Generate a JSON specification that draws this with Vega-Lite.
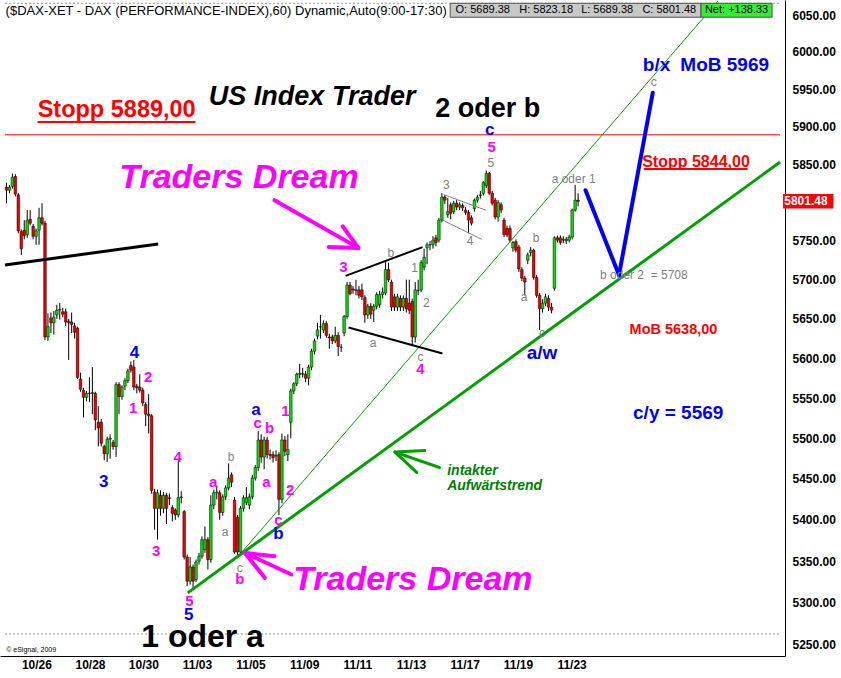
{
"$schema": "https://vega.github.io/schema/vega-lite/v6.json",
"width": 785, "height": 656,
"autosize": {"type": "none"},
"padding": {"left": 0, "top": 0, "right": 56, "bottom": 22},
"background": "white",
"config": {"view": {"stroke": null}, "font": "Liberation Sans, Arial, sans-serif",
 "axis": {"ticks": false, "grid": false, "domainColor": "black", "domainWidth": 1, "labelFont": "Liberation Sans, Arial, sans-serif", "labelFontWeight": "bold", "labelFontSize": 12, "labelColor": "black", "labelFlush": false, "labelOverlap": false, "titleOpacity": 0},
 "axisX": {"labelPadding": 3}, "axisY": {"labelPadding": 7}},
"datasets": {
"c": [
{"i":0,"o":5820,"h":5826,"l":5799,"c":5816},{"i":1,"o":5816,"h":5823,"l":5812,"c":5820},{"i":2,"o":5821,"h":5838,"l":5818,"c":5833},{"i":3,"o":5834,"h":5837,"l":5808,"c":5811},{"i":4,"o":5810,"h":5812,"l":5760,"c":5763},{"i":5,"o":5762,"h":5765,"l":5732,"c":5740},{"i":6,"o":5764,"h":5777,"l":5752,"c":5757},{"i":7,"o":5758,"h":5790,"l":5754,"c":5777},{"i":8,"o":5778,"h":5790,"l":5770,"c":5773},{"i":9,"o":5769,"h":5772,"l":5752,"c":5756},
{"i":10,"o":5756,"h":5766,"l":5745,"c":5763},{"i":11,"o":5764,"h":5793,"l":5745,"c":5780},{"i":12,"o":5780,"h":5799,"l":5770,"c":5773},{"i":13,"o":5773,"h":5776,"l":5623,"c":5627},{"i":14,"o":5627,"h":5657,"l":5622,"c":5640},{"i":15,"o":5651,"h":5658,"l":5632,"c":5645},{"i":16,"o":5645,"h":5660,"l":5630,"c":5652},{"i":17,"o":5655,"h":5668,"l":5650,"c":5661},{"i":18,"o":5661,"h":5670,"l":5649,"c":5662},{"i":19,"o":5659,"h":5664,"l":5652,"c":5656},
{"i":20,"o":5659,"h":5663,"l":5641,"c":5646},{"i":21,"o":5647,"h":5650,"l":5598,"c":5645},{"i":22,"o":5646,"h":5658,"l":5632,"c":5643},{"i":23,"o":5641,"h":5645,"l":5625,"c":5633},{"i":24,"o":5638,"h":5640,"l":5574,"c":5576},{"i":25,"o":5574,"h":5582,"l":5558,"c":5561},{"i":26,"o":5560,"h":5563,"l":5526,"c":5551},{"i":27,"o":5551,"h":5559,"l":5546,"c":5556},{"i":28,"o":5556,"h":5576,"l":5545,"c":5556},{"i":29,"o":5556,"h":5589,"l":5530,"c":5557},
{"i":30,"o":5556,"h":5558,"l":5510,"c":5523},{"i":31,"o":5520,"h":5540,"l":5490,"c":5513},{"i":32,"o":5520,"h":5524,"l":5490,"c":5494},{"i":33,"o":5490,"h":5492,"l":5473,"c":5481},{"i":34,"o":5481,"h":5502,"l":5471,"c":5499},{"i":35,"o":5499,"h":5505,"l":5475,"c":5500},{"i":36,"o":5495,"h":5498,"l":5486,"c":5490},{"i":37,"o":5490,"h":5570,"l":5477,"c":5567},{"i":38,"o":5567,"h":5570,"l":5530,"c":5552},{"i":39,"o":5552,"h":5566,"l":5548,"c":5564},
{"i":40,"o":5565,"h":5575,"l":5560,"c":5572},{"i":41,"o":5572,"h":5587,"l":5569,"c":5584},{"i":42,"o":5591,"h":5596,"l":5582,"c":5585},{"i":43,"o":5589,"h":5598,"l":5560,"c":5564},{"i":44,"o":5565,"h":5568,"l":5556,"c":5563},{"i":45,"o":5564,"h":5580,"l":5557,"c":5560},{"i":46,"o":5560,"h":5563,"l":5540,"c":5544},{"i":47,"o":5542,"h":5545,"l":5515,"c":5530},{"i":48,"o":5530,"h":5555,"l":5506,"c":5528},{"i":49,"o":5528,"h":5530,"l":5432,"c":5436},
{"i":50,"o":5434,"h":5438,"l":5388,"c":5414},{"i":51,"o":5414,"h":5437,"l":5376,"c":5433},{"i":52,"o":5430,"h":5436,"l":5405,"c":5414},{"i":53,"o":5414,"h":5434,"l":5408,"c":5430},{"i":54,"o":5430,"h":5433,"l":5395,"c":5414},{"i":55,"o":5427,"h":5432,"l":5418,"c":5426},{"i":56,"o":5415,"h":5418,"l":5398,"c":5408},{"i":57,"o":5412,"h":5414,"l":5400,"c":5406},{"i":58,"o":5406,"h":5473,"l":5403,"c":5427},{"i":59,"o":5427,"h":5435,"l":5420,"c":5428},
{"i":60,"o":5410,"h":5412,"l":5352,"c":5355},{"i":61,"o":5355,"h":5358,"l":5320,"c":5326},{"i":62,"o":5326,"h":5355,"l":5322,"c":5343},{"i":63,"o":5343,"h":5346,"l":5316,"c":5326},{"i":64,"o":5328,"h":5352,"l":5325,"c":5349},{"i":65,"o":5350,"h":5360,"l":5346,"c":5356},{"i":66,"o":5356,"h":5380,"l":5353,"c":5376},{"i":67,"o":5364,"h":5392,"l":5360,"c":5376},{"i":68,"o":5376,"h":5379,"l":5340,"c":5352},{"i":69,"o":5352,"h":5430,"l":5348,"c":5418},
{"i":70,"o":5418,"h":5437,"l":5413,"c":5433},{"i":71,"o":5433,"h":5442,"l":5425,"c":5434},{"i":72,"o":5433,"h":5436,"l":5400,"c":5409},{"i":73,"o":5409,"h":5431,"l":5405,"c":5428},{"i":74,"o":5428,"h":5442,"l":5424,"c":5439},{"i":75,"o":5439,"h":5469,"l":5436,"c":5451},{"i":76,"o":5455,"h":5458,"l":5440,"c":5446},{"i":77,"o":5424,"h":5428,"l":5359,"c":5361},{"i":78,"o":5403,"h":5406,"l":5357,"c":5361},{"i":79,"o":5361,"h":5417,"l":5358,"c":5414},
{"i":80,"o":5414,"h":5430,"l":5410,"c":5427},{"i":81,"o":5421,"h":5440,"l":5418,"c":5427},{"i":82,"o":5418,"h":5432,"l":5413,"c":5428},{"i":83,"o":5428,"h":5455,"l":5425,"c":5451},{"i":84,"o":5451,"h":5467,"l":5448,"c":5464},{"i":85,"o":5464,"h":5509,"l":5460,"c":5498},{"i":86,"o":5498,"h":5505,"l":5470,"c":5477},{"i":87,"o":5477,"h":5502,"l":5462,"c":5498},{"i":88,"o":5498,"h":5502,"l":5475,"c":5480},{"i":89,"o":5480,"h":5486,"l":5474,"c":5479},
{"i":90,"o":5480,"h":5484,"l":5470,"c":5476},{"i":91,"o":5478,"h":5485,"l":5472,"c":5479},{"i":92,"o":5480,"h":5483,"l":5406,"c":5425},{"i":93,"o":5425,"h":5506,"l":5420,"c":5498},{"i":94,"o":5498,"h":5503,"l":5478,"c":5484},{"i":95,"o":5480,"h":5505,"l":5472,"c":5486},{"i":96,"o":5520,"h":5562,"l":5500,"c":5559},{"i":97,"o":5559,"h":5570,"l":5555,"c":5568},{"i":98,"o":5568,"h":5582,"l":5565,"c":5580},{"i":99,"o":5580,"h":5593,"l":5575,"c":5581},
{"i":100,"o":5580,"h":5588,"l":5576,"c":5581},{"i":101,"o":5580,"h":5584,"l":5570,"c":5575},{"i":102,"o":5575,"h":5592,"l":5566,"c":5589},{"i":103,"o":5589,"h":5612,"l":5585,"c":5609},{"i":104,"o":5609,"h":5625,"l":5605,"c":5622},{"i":105,"o":5628,"h":5645,"l":5624,"c":5636},{"i":106,"o":5640,"h":5655,"l":5625,"c":5640},{"i":107,"o":5636,"h":5648,"l":5632,"c":5644},{"i":108,"o":5644,"h":5647,"l":5626,"c":5629},{"i":109,"o":5627,"h":5631,"l":5612,"c":5626},
{"i":110,"o":5627,"h":5630,"l":5618,"c":5622},{"i":111,"o":5622,"h":5640,"l":5619,"c":5629},{"i":112,"o":5629,"h":5633,"l":5603,"c":5615},{"i":113,"o":5614,"h":5618,"l":5608,"c":5614},{"i":114,"o":5632,"h":5655,"l":5628,"c":5653},{"i":115,"o":5653,"h":5697,"l":5650,"c":5693},{"i":116,"o":5693,"h":5697,"l":5680,"c":5682},{"i":117,"o":5688,"h":5692,"l":5682,"c":5687},{"i":118,"o":5686,"h":5700,"l":5680,"c":5687},{"i":119,"o":5687,"h":5692,"l":5676,"c":5680},
{"i":120,"o":5687,"h":5695,"l":5674,"c":5678},{"i":121,"o":5677,"h":5680,"l":5645,"c":5655},{"i":122,"o":5655,"h":5669,"l":5650,"c":5666},{"i":123,"o":5666,"h":5670,"l":5650,"c":5656},{"i":124,"o":5661,"h":5669,"l":5646,"c":5666},{"i":125,"o":5666,"h":5684,"l":5662,"c":5681},{"i":126,"o":5668,"h":5686,"l":5664,"c":5681},{"i":127,"o":5681,"h":5690,"l":5676,"c":5684},{"i":128,"o":5683,"h":5725,"l":5680,"c":5713},{"i":129,"o":5713,"h":5722,"l":5697,"c":5700},
{"i":130,"o":5697,"h":5700,"l":5660,"c":5665},{"i":131,"o":5678,"h":5682,"l":5660,"c":5665},{"i":132,"o":5665,"h":5682,"l":5660,"c":5678},{"i":133,"o":5676,"h":5680,"l":5660,"c":5665},{"i":134,"o":5665,"h":5680,"l":5660,"c":5676},{"i":135,"o":5676,"h":5700,"l":5658,"c":5663},{"i":136,"o":5670,"h":5700,"l":5656,"c":5661},{"i":137,"o":5672,"h":5676,"l":5617,"c":5627},{"i":138,"o":5627,"h":5697,"l":5620,"c":5687},{"i":139,"o":5686,"h":5700,"l":5680,"c":5686},
{"i":140,"o":5687,"h":5725,"l":5684,"c":5722},{"i":141,"o":5716,"h":5740,"l":5712,"c":5729},{"i":142,"o":5741,"h":5748,"l":5720,"c":5745},{"i":143,"o":5745,"h":5750,"l":5738,"c":5745},{"i":144,"o":5745,"h":5756,"l":5740,"c":5751},{"i":145,"o":5754,"h":5758,"l":5743,"c":5748},{"i":146,"o":5751,"h":5780,"l":5748,"c":5777},{"i":147,"o":5777,"h":5812,"l":5774,"c":5807},{"i":148,"o":5807,"h":5810,"l":5798,"c":5803},{"i":149,"o":5784,"h":5806,"l":5780,"c":5788},
{"i":150,"o":5797,"h":5800,"l":5778,"c":5786},{"i":151,"o":5788,"h":5802,"l":5785,"c":5799},{"i":152,"o":5799,"h":5803,"l":5790,"c":5794},{"i":153,"o":5794,"h":5800,"l":5790,"c":5797},{"i":154,"o":5796,"h":5799,"l":5789,"c":5793},{"i":155,"o":5790,"h":5794,"l":5784,"c":5787},{"i":156,"o":5787,"h":5790,"l":5760,"c":5777},{"i":157,"o":5780,"h":5783,"l":5770,"c":5773},{"i":158,"o":5792,"h":5805,"l":5788,"c":5803},{"i":159,"o":5803,"h":5810,"l":5800,"c":5807},
{"i":160,"o":5809,"h":5815,"l":5805,"c":5810},{"i":161,"o":5812,"h":5828,"l":5809,"c":5826},{"i":162,"o":5822,"h":5842,"l":5819,"c":5838},{"i":163,"o":5838,"h":5840,"l":5810,"c":5812},{"i":164,"o":5812,"h":5815,"l":5796,"c":5799},{"i":165,"o":5803,"h":5806,"l":5778,"c":5781},{"i":166,"o":5781,"h":5803,"l":5775,"c":5800},{"i":167,"o":5797,"h":5800,"l":5786,"c":5790},{"i":168,"o":5777,"h":5780,"l":5755,"c":5758},{"i":169,"o":5766,"h":5770,"l":5755,"c":5758},
{"i":170,"o":5766,"h":5770,"l":5748,"c":5751},{"i":171,"o":5741,"h":5750,"l":5736,"c":5748},{"i":172,"o":5749,"h":5752,"l":5735,"c":5738},{"i":173,"o":5742,"h":5745,"l":5710,"c":5714},{"i":174,"o":5713,"h":5716,"l":5698,"c":5702},{"i":175,"o":5702,"h":5705,"l":5680,"c":5697},{"i":176,"o":5725,"h":5735,"l":5720,"c":5732},{"i":177,"o":5735,"h":5742,"l":5730,"c":5738},{"i":178,"o":5738,"h":5740,"l":5700,"c":5703},{"i":179,"o":5703,"h":5706,"l":5677,"c":5680},
{"i":180,"o":5680,"h":5683,"l":5636,"c":5663},{"i":181,"o":5663,"h":5675,"l":5658,"c":5670},{"i":182,"o":5670,"h":5682,"l":5666,"c":5678},{"i":183,"o":5676,"h":5680,"l":5660,"c":5665},{"i":184,"o":5665,"h":5670,"l":5657,"c":5661},{"i":185,"o":5689,"h":5756,"l":5686,"c":5754},{"i":186,"o":5754,"h":5757,"l":5748,"c":5751},{"i":187,"o":5754,"h":5757,"l":5745,"c":5748},{"i":188,"o":5751,"h":5756,"l":5747,"c":5752},{"i":189,"o":5750,"h":5755,"l":5746,"c":5752},
{"i":190,"o":5751,"h":5758,"l":5748,"c":5755},{"i":191,"o":5755,"h":5792,"l":5752,"c":5790},{"i":192,"o":5790,"h":5823,"l":5788,"c":5803},{"i":193,"o":5803,"h":5812,"l":5795,"c":5801.48}
],
"mg": [{"x":47.8,"y":5576,"t":"2"},{"x":42.8,"y":5538,"t":"1"},{"x":57.8,"y":5477,"t":"4"},{"x":50.5,"y":5362,"t":"3"},{"x":61.8,"y":5302,"t":"5"},{"x":69.8,"y":5446,"t":"a"},{"x":87.8,"y":5446,"t":"a"},{"x":84.8,"y":5519,"t":"c"},{"x":88.8,"y":5513,"t":"b"},{"x":94.2,"y":5534,"t":"1"},{"x":95.8,"y":5436,"t":"2"},{"x":91.8,"y":5400,"t":"c"},{"x":78.8,"y":5328,"t":"b"},{"x":113.8,"y":5716,"t":"3"},{"x":139.8,"y":5587,"t":"4"},{"x":163.8,"y":5873,"t":"5"}],
"bl": [{"x":43.2,"y":5607,"t":"4"},{"x":32.8,"y":5446,"t":"3"},{"x":61.5,"y":5286,"t":"5"},{"x":84.2,"y":5535,"t":"a"},{"x":91.8,"y":5383,"t":"b"},{"x":163.2,"y":5895,"t":"c"}],
"blbig": [{"x":180.8,"y":5607,"t":"a/w"},{"x":226.8,"y":5531,"t":"c/y = 5569"},{"x":219.5,"y":5982,"t":"b/x"},{"x":242.5,"y":5982,"t":"MoB 5969"}],
"gr": [{"x":73.8,"y":5385,"t":"a"},{"x":75.8,"y":5477,"t":"b"},{"x":78.8,"y":5342,"t":"c"},{"x":123.8,"y":5619,"t":"a"},{"x":129.8,"y":5734,"t":"b"},{"x":137.8,"y":5715,"t":"1"},{"x":141.8,"y":5670,"t":"2"},{"x":139.8,"y":5602,"t":"c"},{"x":148.5,"y":5823,"t":"3"},{"x":156.5,"y":5750,"t":"4"},{"x":163.5,"y":5852,"t":"5"},{"x":178.8,"y":5754,"t":"b"},{"x":174.8,"y":5678,"t":"a"},{"x":180.8,"y":5632,"t":"c"},{"x":191.5,"y":5831,"t":"a oder 1"},{"x":218.5,"y":5960,"t":"c"},{"x":215.2,"y":5706,"t":"b oder 2\u00a0\u00a0= 5708"}],
"tg": [{"x1":61.2,"y1":5312,"x2":261.2,"y2":5853}],
"thin": [{"x1":79.5,"y1":5361,"x2":240.2,"y2":6069}],
"blue": [{"x1":195.5,"y1":5816,"x2":206.8,"y2":5706},{"x1":206.8,"y1":5706,"x2":218.2,"y2":5945}],
"blk1": [{"x1":-0.5,"y1":5719,"x2":51.2,"y2":5746}],
"blk2": [{"x1":114.5,"y1":5705,"x2":140.5,"y2":5742},{"x1":115.5,"y1":5639,"x2":147.2,"y2":5606}],
"gry": [{"x1":147.8,"y1":5810,"x2":161.8,"y2":5790},{"x1":147.2,"y1":5777,"x2":160.5,"y2":5752}],
"mag": [{"x1":90.5,"y1":5803,"x2":118.8,"y2":5741},{"x1":118.8,"y1":5741,"x2":108.8,"y2":5742},{"x1":118.8,"y1":5741,"x2":113.5,"y2":5769},{"x1":96.2,"y1":5334,"x2":80.5,"y2":5360},{"x1":80.5,"y1":5360,"x2":90.5,"y2":5356},{"x1":80.5,"y1":5360,"x2":87.2,"y2":5330}],
"garr": [{"x1":146.2,"y1":5464,"x2":131.2,"y2":5483},{"x1":131.2,"y1":5483,"x2":141.2,"y2":5485},{"x1":131.2,"y1":5483,"x2":138.5,"y2":5458}],
"stop": [{"x1":-0.5,"y1":5889,"x2":261.17,"y2":5889}],
"ul": [{"x1":10.5,"y1":5906,"x2":63.8,"y2":5906},{"x1":215.2,"y1":5844,"x2":250.2,"y2":5844}],
"dash": [{"x1":-0.5,"y1":6066,"x2":261.17,"y2":6066},{"x1":-0.5,"y1":5263,"x2":261.17,"y2":5263}]
},
"layer": [
{"data":{"name":"dash"},"mark":{"type":"rule","color":"#999999","strokeWidth":1,"strokeDash":[2,2]},"encoding":{"x":{"field":"x1","type":"quantitative","scale":{"domain":[-0.5,261.1667],"nice":false,"zero":false},"axis":{"orient":"bottom","values":[10.1,28.2,46.2,64.3,82.4,100.5,118.5,136.6,154.7,172.7,190.8],"labelExpr":"['10/26','10/28','10/30','11/03','11/05','11/09','11/11','11/13','11/17','11/19','11/23'][round((datum.value-10.1)/18.07)]","title":""}},"y":{"field":"y1","type":"quantitative","scale":{"type":"log","domain":[5237,6070.5],"nice":false,"zero":false},"axis":{"orient":"right","values":[5250,5300,5350,5400,5450,5500,5550,5600,5650,5700,5750,5850,5900,5950,6000,6050],"format":".2f","title":""}},"x2":{"field":"x2"},"y2":{"field":"y2"}}},
{"data":{"name":"c"},"mark":{"type":"rule","color":"black","strokeWidth":1},"encoding":{"x":{"field":"i","type":"quantitative"},"y":{"field":"l","type":"quantitative"},"y2":{"field":"h"}}},
{"data":{"name":"c"},"mark":{"type":"bar","size":2.6,"stroke":"black","strokeWidth":0.5},"encoding":{"x":{"field":"i","type":"quantitative"},"y":{"field":"o","type":"quantitative"},"y2":{"field":"c"},"color":{"condition":{"test":"datum.c >= datum.o","value":"#00e000"},"value":"#f00000"}}},
{"data":{"name":"stop"},"mark":{"type":"rule","color":"#ff0000","strokeWidth":1},"encoding":{"x":{"field":"x1","type":"quantitative"},"y":{"field":"y1","type":"quantitative"},"x2":{"field":"x2"},"y2":{"field":"y2"}}},
{"data":{"name":"thin"},"mark":{"type":"rule","color":"#00a000","strokeWidth":1},"encoding":{"x":{"field":"x1","type":"quantitative"},"y":{"field":"y1","type":"quantitative"},"x2":{"field":"x2"},"y2":{"field":"y2"}}},
{"data":{"name":"tg"},"mark":{"type":"rule","color":"#00a000","strokeWidth":3},"encoding":{"x":{"field":"x1","type":"quantitative"},"y":{"field":"y1","type":"quantitative"},"x2":{"field":"x2"},"y2":{"field":"y2"}}},
{"data":{"name":"blue"},"mark":{"type":"rule","color":"#0000ff","strokeWidth":4,"strokeCap":"round"},"encoding":{"x":{"field":"x1","type":"quantitative"},"y":{"field":"y1","type":"quantitative"},"x2":{"field":"x2"},"y2":{"field":"y2"}}},
{"data":{"name":"blk1"},"mark":{"type":"rule","color":"black","strokeWidth":3},"encoding":{"x":{"field":"x1","type":"quantitative"},"y":{"field":"y1","type":"quantitative"},"x2":{"field":"x2"},"y2":{"field":"y2"}}},
{"data":{"name":"blk2"},"mark":{"type":"rule","color":"black","strokeWidth":2},"encoding":{"x":{"field":"x1","type":"quantitative"},"y":{"field":"y1","type":"quantitative"},"x2":{"field":"x2"},"y2":{"field":"y2"}}},
{"data":{"name":"gry"},"mark":{"type":"rule","color":"#808080","strokeWidth":1},"encoding":{"x":{"field":"x1","type":"quantitative"},"y":{"field":"y1","type":"quantitative"},"x2":{"field":"x2"},"y2":{"field":"y2"}}},
{"data":{"name":"mag"},"mark":{"type":"rule","color":"#ff00ff","strokeWidth":4,"strokeCap":"round"},"encoding":{"x":{"field":"x1","type":"quantitative"},"y":{"field":"y1","type":"quantitative"},"x2":{"field":"x2"},"y2":{"field":"y2"}}},
{"data":{"name":"garr"},"mark":{"type":"rule","color":"#00a000","strokeWidth":3,"strokeCap":"round"},"encoding":{"x":{"field":"x1","type":"quantitative"},"y":{"field":"y1","type":"quantitative"},"x2":{"field":"x2"},"y2":{"field":"y2"}}},
{"data":{"name":"ul"},"mark":{"type":"rule","color":"#ff0000","strokeWidth":2},"encoding":{"x":{"field":"x1","type":"quantitative"},"y":{"field":"y1","type":"quantitative"},"x2":{"field":"x2"},"y2":{"field":"y2"}}},
{"data":{"values":[{"x1":149.8,"x2":234.5,"y1":6066,"y2":6047}]},"mark":{"type":"rect","fill":"#c8c8c8","stroke":"#505050","strokeWidth":1},"encoding":{"x":{"field":"x1","type":"quantitative"},"y":{"field":"y1","type":"quantitative"},"x2":{"field":"x2"},"y2":{"field":"y2"}}},
{"data":{"values":[{"x1":234.5,"x2":258.5,"y1":6066,"y2":6047}]},"mark":{"type":"rect","fill":"#33ee33","stroke":"#505050","strokeWidth":1},"encoding":{"x":{"field":"x1","type":"quantitative"},"y":{"field":"y1","type":"quantitative"},"x2":{"field":"x2"},"y2":{"field":"y2"}}},
{"data":{"values":[{"x1":262.2,"x2":279.2,"y1":5811,"y2":5792}]},"mark":{"type":"rect","fill":"#ff0000"},"encoding":{"x":{"field":"x1","type":"quantitative"},"y":{"field":"y1","type":"quantitative"},"x2":{"field":"x2"},"y2":{"field":"y2"}}},
{"data":{"values":[{"x":262.6,"y":5801.48,"t":"5801.48"}]},"mark":{"type":"text","color":"white","fontSize":12,"fontWeight":"bold","align":"left","baseline":"middle"},"encoding":{"x":{"field":"x","type":"quantitative"},"y":{"field":"y","type":"quantitative"},"text":{"field":"t"}}},
{"data":{"values":[{"x":160.8,"y":6056.5,"t":"O: 5689.38"},{"x":182.2,"y":6056.5,"t":"H: 5823.18"},{"x":202.8,"y":6056.5,"t":"L: 5689.38"},{"x":223.8,"y":6056.5,"t":"C: 5801.48"},{"x":246.5,"y":6056.5,"t":"Net: +138.33"}]},"mark":{"type":"text","color":"black","fontSize":11,"align":"center","baseline":"middle"},"encoding":{"x":{"field":"x","type":"quantitative"},"y":{"field":"y","type":"quantitative"},"text":{"field":"t"}}},
{"data":{"values":[{"x":-0.3,"y":6056,"t":"($DAX-XET - DAX (PERFORMANCE-INDEX),60) Dynamic,Auto(9:00-17:30)"}]},"mark":{"type":"text","color":"black","fontSize":13,"align":"left","baseline":"middle"},"encoding":{"x":{"field":"x","type":"quantitative"},"y":{"field":"y","type":"quantitative"},"text":{"field":"t"}}},
{"data":{"values":[{"x":-0.1,"y":5244,"t":"© eSignal, 2009"}]},"mark":{"type":"text","color":"black","fontSize":7,"align":"left","baseline":"middle"},"encoding":{"x":{"field":"x","type":"quantitative"},"y":{"field":"y","type":"quantitative"},"text":{"field":"t"}}},
{"data":{"name":"gr"},"mark":{"type":"text","color":"#808080","fontSize":12,"align":"center","baseline":"middle"},"encoding":{"x":{"field":"x","type":"quantitative"},"y":{"field":"y","type":"quantitative"},"text":{"field":"t"}}},
{"data":{"name":"mg"},"mark":{"type":"text","color":"#ff00ff","fontSize":15,"fontWeight":"bold","align":"center","baseline":"middle"},"encoding":{"x":{"field":"x","type":"quantitative"},"y":{"field":"y","type":"quantitative"},"text":{"field":"t"}}},
{"data":{"name":"bl"},"mark":{"type":"text","color":"#0000ff","fontSize":17,"fontWeight":"bold","align":"center","baseline":"middle"},"encoding":{"x":{"field":"x","type":"quantitative"},"y":{"field":"y","type":"quantitative"},"text":{"field":"t"}}},
{"data":{"name":"blbig"},"mark":{"type":"text","color":"#0000ff","fontSize":19,"fontWeight":"bold","align":"center","baseline":"middle"},"encoding":{"x":{"field":"x","type":"quantitative"},"y":{"field":"y","type":"quantitative"},"text":{"field":"t"}}},
{"data":{"values":[{"x":37.2,"y":5922,"t":"Stopp 5889,00"}]},"mark":{"type":"text","color":"#ff0000","fontSize":23.5,"fontWeight":"bold","align":"center","baseline":"middle"},"encoding":{"x":{"field":"x","type":"quantitative"},"y":{"field":"y","type":"quantitative"},"text":{"field":"t"}}},
{"data":{"values":[{"x":232.8,"y":5853,"t":"Stopp 5844,00"}]},"mark":{"type":"text","color":"#ff0000","fontSize":16,"fontWeight":"bold","align":"center","baseline":"middle"},"encoding":{"x":{"field":"x","type":"quantitative"},"y":{"field":"y","type":"quantitative"},"text":{"field":"t"}}},
{"data":{"values":[{"x":225.2,"y":5636,"t":"MoB 5638,00"}]},"mark":{"type":"text","color":"#ff0000","fontSize":14.5,"fontWeight":"bold","align":"center","baseline":"middle"},"encoding":{"x":{"field":"x","type":"quantitative"},"y":{"field":"y","type":"quantitative"},"text":{"field":"t"}}},
{"data":{"values":[{"x":103.2,"y":5939,"t":"US Index Trader"}]},"mark":{"type":"text","color":"black","fontSize":27,"fontWeight":"bold","fontStyle":"italic","align":"center","baseline":"middle"},"encoding":{"x":{"field":"x","type":"quantitative"},"y":{"field":"y","type":"quantitative"},"text":{"field":"t"}}},
{"data":{"values":[{"x":162.5,"y":5923,"t":"2 oder b"}]},"mark":{"type":"text","color":"black","fontSize":27,"fontWeight":"bold","align":"center","baseline":"middle"},"encoding":{"x":{"field":"x","type":"quantitative"},"y":{"field":"y","type":"quantitative"},"text":{"field":"t"}}},
{"data":{"values":[{"x":66.2,"y":5259,"t":"1 oder a"}]},"mark":{"type":"text","color":"black","fontSize":32,"fontWeight":"bold","align":"center","baseline":"middle"},"encoding":{"x":{"field":"x","type":"quantitative"},"y":{"field":"y","type":"quantitative"},"text":{"field":"t"}}},
{"data":{"values":[{"x":78.5,"y":5832,"t":"Traders Dream"},{"x":137.2,"y":5327,"t":"Traders Dream"}]},"mark":{"type":"text","color":"#ff00ff","fontSize":34,"fontWeight":"bold","fontStyle":"italic","align":"center","baseline":"middle"},"encoding":{"x":{"field":"x","type":"quantitative"},"y":{"field":"y","type":"quantitative"},"text":{"field":"t"}}},
{"data":{"values":[{"x":148.8,"y":5460,"t":"intakter"},{"x":148.8,"y":5441,"t":"Aufwärtstrend"}]},"mark":{"type":"text","color":"#008000","fontSize":14,"fontWeight":"bold","fontStyle":"italic","align":"left","baseline":"middle"},"encoding":{"x":{"field":"x","type":"quantitative"},"y":{"field":"y","type":"quantitative"},"text":{"field":"t"}}}
]
}
